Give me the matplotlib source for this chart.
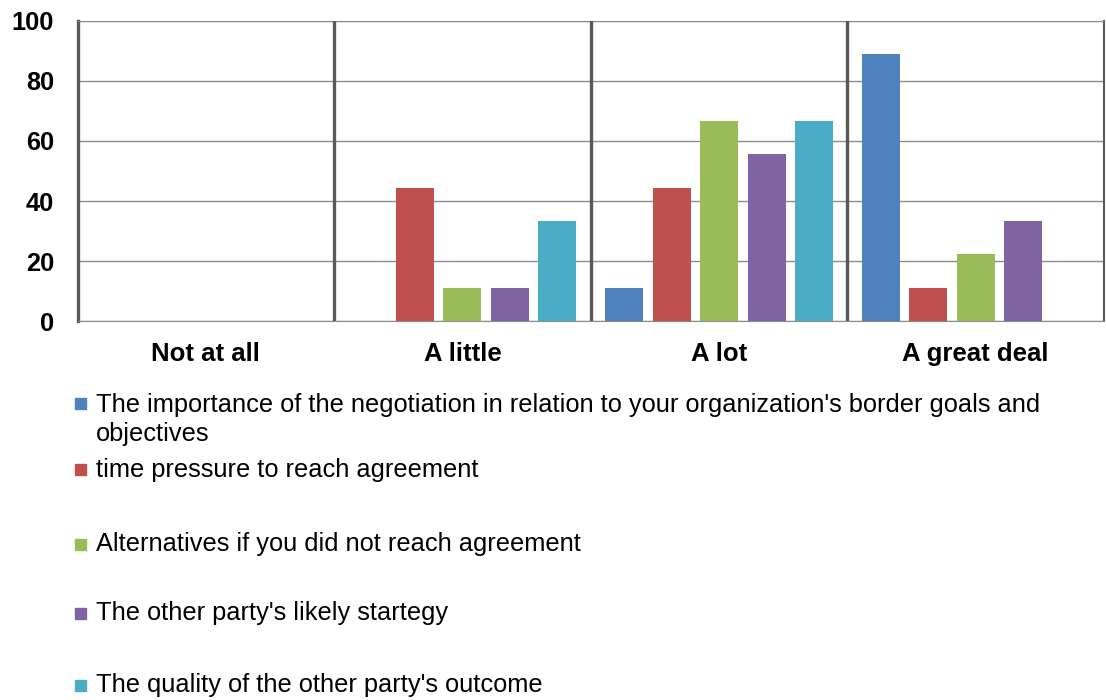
import numpy as np
import matplotlib
matplotlib.use("Agg")
import matplotlib.pyplot as plt
from matplotlib.patches import Rectangle

plt.rcParams["font.family"] = ["Liberation Sans", "DejaVu Sans"]

categories = ["Not at all", "A little", "A lot", "A great deal"]
series_names = [
    "The importance of the negotiation in relation to your organization's border goals and\nobjectives",
    "time pressure to reach agreement",
    "Alternatives if you did not reach agreement",
    "The other party's likely startegy",
    "The quality of the other party's outcome",
]
importance = [0, 0, 11.1, 88.9]
time_pressure = [0, 44.4, 44.4, 11.1]
alternatives = [0, 11.1, 66.7, 22.2]
strategy = [0, 11.1, 55.6, 33.3]
quality = [0, 33.3, 66.7, 0]
series = [importance, time_pressure, alternatives, strategy, quality]
colors = ["#4F81BD", "#C0504D", "#9BBB59", "#8064A2", "#4BACC6"]

fig = plt.figure(figsize=(11.06, 7.0), dpi=100)
ax = fig.add_axes([77.5 / 1106, 1 - 321 / 700, (1104 - 77.5) / 1106, 300 / 700])

x = np.arange(len(categories))
pitch = 0.185
width = 0.148
for j, (vals, c) in enumerate(zip(series, colors)):
    ax.bar(x + (j - 2) * pitch, vals, width, color=c, zorder=3)

ax.set_xlim(-0.5, len(categories) - 0.5)
ax.set_ylim(0, 100)
ax.set_yticks([0, 20, 40, 60, 80, 100])
ax.yaxis.grid(True, color="#8c8c8c", linewidth=1.0, zorder=1)
ax.set_xticks(x)
ax.set_xticklabels(categories, fontsize=18.5, fontweight="bold")
ax.tick_params(axis="x", length=0, pad=15)
ax.tick_params(axis="y", length=0, pad=17, labelsize=18.3)
for lab in ax.get_yticklabels():
    lab.set_fontweight("bold")

for sep in [0.5, 1.5, 2.5]:
    ax.axvline(sep, color="#595959", linewidth=2.4, zorder=4)
ax.spines["left"].set_color("#595959")
ax.spines["left"].set_linewidth(2.4)
ax.spines["right"].set_color("#595959")
ax.spines["right"].set_linewidth(1.5)
ax.spines["top"].set_color("#8c8c8c")
ax.spines["bottom"].set_color("#8c8c8c")

# legend entries placed like the original (uneven spacing)
legend_y = [403, 470, 544, 613, 685]
for name, c, yp in zip(series_names, colors, legend_y):
    fy = 1 - yp / 700
    fig.patches.append(Rectangle((75 / 1106, fy - 5.5 / 700), 11 / 1106, 11 / 700,
                                 transform=fig.transFigure, color=c))
    if "\n" in name:
        fig.text(96 / 1106, fy + 10 / 700, name, fontsize=18.3, va="top",
                 ha="left", linespacing=1.25)
    else:
        fig.text(96 / 1106, fy, name, fontsize=18.3, va="center", ha="left")

fig.savefig("out.png", dpi=100)
